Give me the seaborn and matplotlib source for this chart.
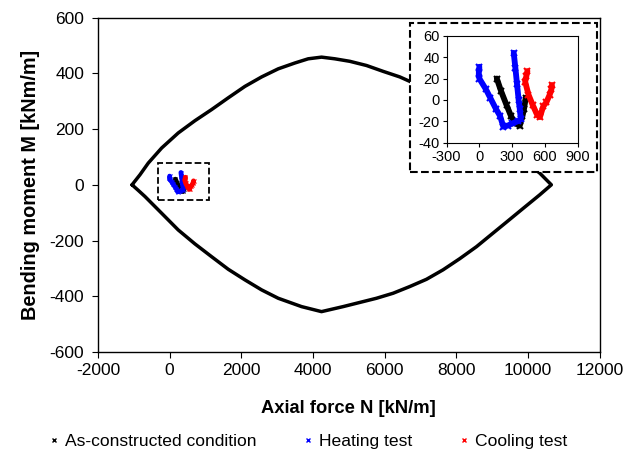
import numpy as np
import matplotlib
matplotlib.use("Agg")
import matplotlib.pyplot as plt
import seaborn as sns
from matplotlib.lines import Line2D
from matplotlib.patches import Rectangle

# Interaction envelope (N-M)
env_n = [-1050, -829, -597, -224, 239, 705, 1171, 1634, 2099, 2565, 3028, 3494,
         3865, 4238, 4609, 5027, 5493, 5956, 6422, 6700, 7166, 7629, 8095, 8561,
         8931, 9397, 9860, 10326, 10650,
         10326, 9860, 9397, 8931, 8561, 8095, 7629, 7166, 6700, 6235, 5772, 5306,
         4840, 4237, 3680, 3028, 2565, 2099, 1634, 1171, 705, 239, -224, -689,
         -876, -1050]
env_m = [0, 36, 78, 132, 186, 230, 270, 312, 353, 387, 416, 437,
         452, 458, 452, 443, 428, 407, 387, 371, 343, 310, 272, 228,
         188, 138, 89, 42, 0,
         -36, -85, -134, -183, -222, -265, -305, -339, -365, -389, -407, -422,
         -437, -455, -437, -407, -377, -341, -303, -258, -212, -162, -102, -42,
         -20, 0]

# As-constructed condition
base_n = [160, 200, 250, 290, 330, 370, 395, 410, 425]
base_m = [20, 8, -5, -15, -22, -24, -15, -8, 2]

# Heating test
heat_n = [0, -5, 0, 60, 100, 150, 190, 220, 260, 300, 350, 380, 370, 360, 345, 330, 315]
heat_m = [31, 25, 20, 10, 2, -8, -15, -25, -24, -22, -20, -18, -8, 0, 15, 30, 44]

# Cooling test
cool_n = [440, 430, 420, 450, 490, 530, 555, 585, 615, 645, 660, 665]
cool_m = [27, 22, 17, 5, -5, -14, -16, -6, -2, 5, 10, 14]

series = [
    ("As-constructed condition", base_n, base_m, "black"),
    ("Heating test", heat_n, heat_m, "blue"),
    ("Cooling test", cool_n, cool_m, "red"),
]

sns.set_style("ticks", {"axes.edgecolor": "black", "axes.labelcolor": "black",
                        "text.color": "black", "xtick.color": "black",
                        "ytick.color": "black"})
plt.rcParams["font.family"] = ["Liberation Sans", "DejaVu Sans"]
plt.rcParams["axes.unicode_minus"] = False

fig = plt.figure(figsize=(6.38, 4.62), dpi=100)
ax = fig.add_axes([0.1536, 0.238, 0.7864, 0.724])

sns.lineplot(x=env_n, y=env_m, sort=False, estimator=None, color="black",
             linewidth=2.5, ax=ax)
for label, n, m, c in series:
    sns.lineplot(x=n, y=m, sort=False, estimator=None, color=c, linewidth=3.5,
                 marker="x", markersize=3, markeredgecolor=c, ax=ax)

ax.set_xlim(-2000, 12000)
ax.set_ylim(-600, 600)
ax.set_xticks(np.arange(-2000, 12001, 2000))
ax.set_yticks(np.arange(-600, 601, 200))
ax.tick_params(labelsize=12.5, direction="out", length=4, pad=4)
ax.tick_params(axis="y", pad=6)
ax.set_xlabel("Axial force N [kN/m]", fontsize=13.2, fontweight="bold", labelpad=16)
ax.set_ylabel("Bending moment M [kNm/m]", fontsize=14.3, fontweight="bold",
              labelpad=7)
for s in ax.spines.values():
    s.set_linewidth(1)

# small zoom box
ax.add_patch(Rectangle((-320, -55), 1420, 133, fill=False, ls="--", lw=1.3,
                       ec="black", zorder=5))

# inset frame
ax.add_patch(Rectangle((0.6426, 0.6277), 0.2931, 0.3223, transform=fig.transFigure,
                       facecolor="white", edgecolor="black", ls="--", lw=1.5,
                       clip_on=False, zorder=10))

axi = fig.add_axes([0.700, 0.691, 0.2053, 0.2316])
for label, n, m, c in series:
    sns.lineplot(x=n, y=m, sort=False, estimator=None, color=c, linewidth=4.2,
                 marker="x", markersize=5, markeredgewidth=1.5,
                 markeredgecolor=c, ax=axi)
axi.set_xlim(-300, 900)
axi.set_ylim(-40, 60)
axi.set_xticks(np.arange(-300, 901, 300))
axi.set_yticks(np.arange(-40, 61, 20))
axi.tick_params(labelsize=10.5, direction="out", length=3, pad=2)

handles = [Line2D([], [], marker="x", ls="none", color=c, markersize=3.5, mew=1)
           for _, _, _, c in series]
fig.legend(handles, [s[0] for s in series], loc="center", ncol=3,
           bbox_to_anchor=(0.484, 0.045), frameon=False, fontsize=12.6,
           handletextpad=0.38, columnspacing=2.7, handlelength=0.5)

fig.savefig("out.png", dpi=100)
